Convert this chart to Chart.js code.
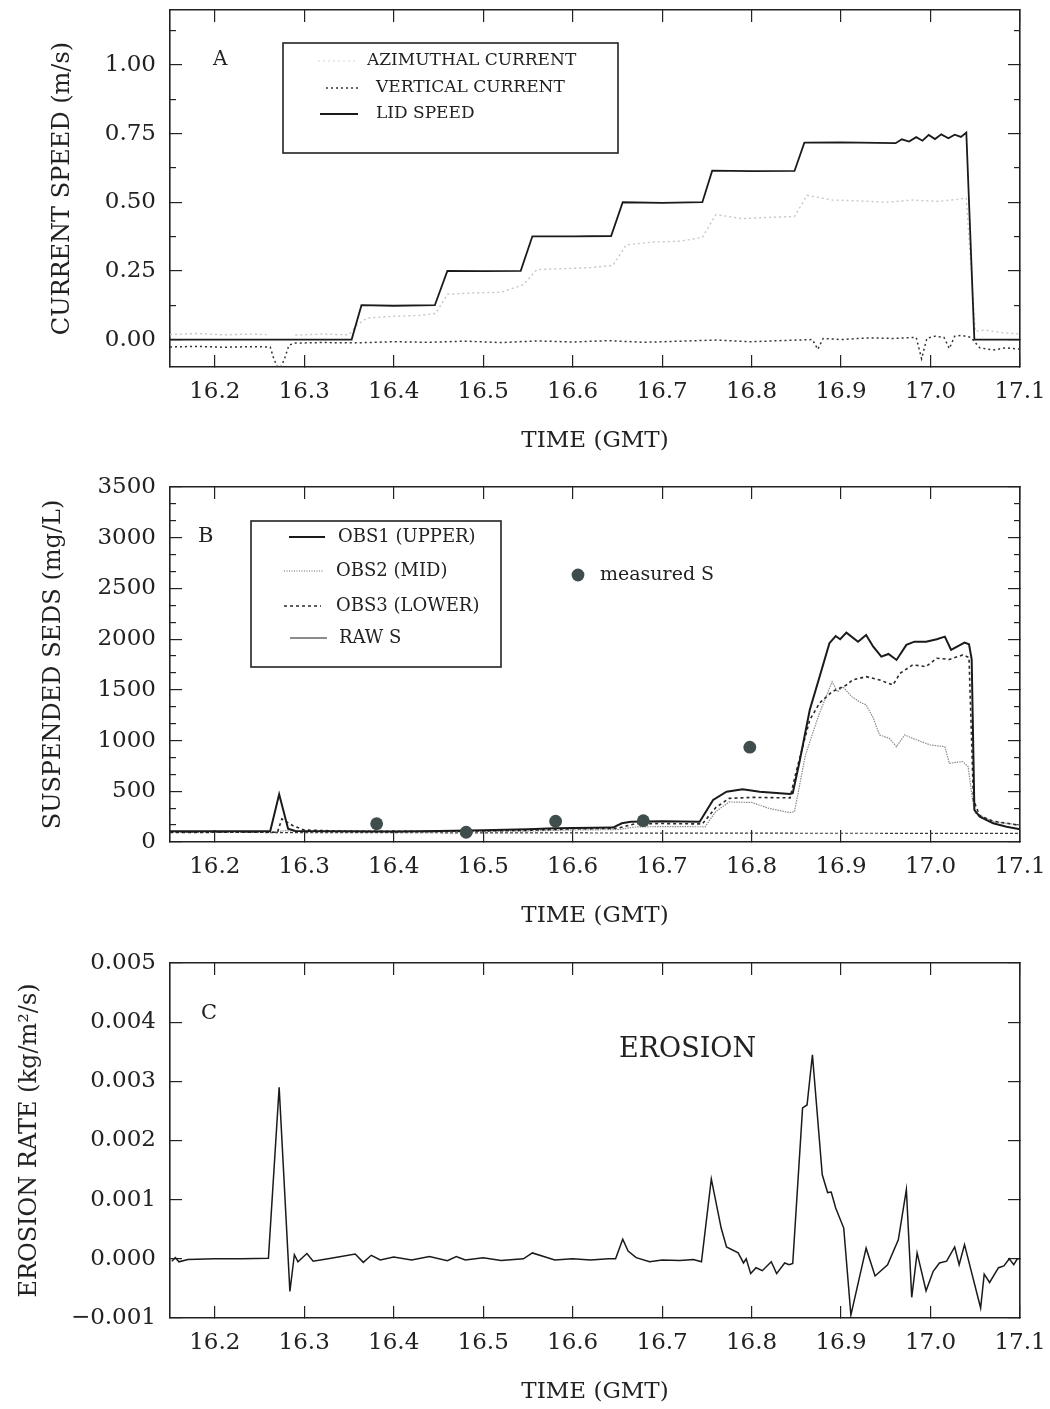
<!DOCTYPE html>
<html><head><meta charset="utf-8">
<script src="https://cdn.jsdelivr.net/npm/chart.js@4.4.1/dist/chart.umd.min.js"></script>
<style>
html,body{margin:0;padding:0;background:#fff;}
canvas{position:absolute;left:0;}
</style></head><body>
<canvas id="cA" width="1050" height="470" style="top:0px;width:1050px;height:470px"></canvas>
<canvas id="cB" width="1050" height="470" style="top:470px;width:1050px;height:470px"></canvas>
<canvas id="cC" width="1050" height="469" style="top:940px;width:1050px;height:469px"></canvas>
<script>
// ---------- shared x axis ----------
const X_MIN = 16.15, X_MAX = 17.1;
const xTickValues = [16.2, 16.3, 16.4, 16.5, 16.6, 16.7, 16.8, 16.9, 17.0, 17.1];
const xTickLabels = ['16.2','16.3','16.4','16.5','16.6','16.7','16.8','16.9','17.0','17.1'];
const X_TITLE = 'TIME (GMT)';

// ---------- panel A : currents ----------
const aYMajor = [0, 0.25, 0.5, 0.75, 1.0];
const aYLabels = ['0.00','0.25','0.50','0.75','1.00'];
const aYMinor = [0.125, 0.375, 0.625, 0.875, 1.125];
const lidT = [16.15,16.353,16.364,16.40,16.446,16.460,16.50,16.542,16.555,16.60,16.643,16.656,16.70,16.745,16.756,16.80,16.848,16.859,16.90,16.961,16.968,16.976,16.984,16.991,16.998,17.005,17.012,17.020,17.027,17.034,17.040,17.049,17.10];
const lidV = [0,0,0.125,0.123,0.125,0.250,0.249,0.250,0.376,0.376,0.377,0.500,0.498,0.500,0.615,0.613,0.614,0.717,0.718,0.715,0.729,0.721,0.737,0.724,0.745,0.730,0.747,0.733,0.746,0.738,0.754,0,0];
const azT = [16.15,16.18,16.21,16.24,16.258,16.262,16.29,16.32,16.35,16.358,16.37,16.40,16.43,16.447,16.46,16.49,16.52,16.545,16.56,16.59,16.62,16.645,16.66,16.69,16.72,16.745,16.76,16.79,16.82,16.848,16.862,16.89,16.92,16.95,16.98,17.01,17.04,17.05,17.06,17.08,17.10];
const azV = [0.018,0.022,0.017,0.020,0.018,null,0.016,0.020,0.017,0.05,0.078,0.085,0.088,0.095,0.165,0.170,0.172,0.20,0.255,0.258,0.262,0.270,0.345,0.355,0.358,0.372,0.455,0.440,0.445,0.448,0.525,0.508,0.505,0.500,0.508,0.503,0.515,0.030,0.035,0.025,0.020];
const vtT = [16.15,16.18,16.21,16.24,16.262,16.266,16.272,16.278,16.283,16.29,16.32,16.36,16.40,16.44,16.48,16.52,16.56,16.60,16.64,16.68,16.72,16.76,16.80,16.84,16.868,16.874,16.880,16.90,16.93,16.96,16.984,16.990,16.996,17.005,17.015,17.021,17.027,17.035,17.045,17.055,17.07,17.085,17.10];
const vtV = [-0.027,-0.025,-0.028,-0.026,-0.027,-0.07,-0.115,-0.07,-0.02,-0.013,-0.011,-0.012,-0.008,-0.010,-0.006,-0.011,-0.005,-0.009,-0.004,-0.010,-0.006,-0.002,-0.008,-0.003,0.000,-0.036,0.004,0.000,0.006,0.004,0.008,-0.070,0.005,0.012,0.008,-0.033,0.012,0.015,0.008,-0.030,-0.038,-0.030,-0.035];

// ---------- panel B : suspended sediment ----------
const bYMajor = [0,500,1000,1500,2000,2500,3000,3500];
const bYLabels = ['0','500','1000','1500','2000','2500','3000','3500'];
const bYMinor = [166.67,333.33,666.67,833.33,1166.67,1333.33,1666.67,1833.33,2166.67,2333.33,2666.67,2833.33,3166.67,3333.33];
const obs1T = [16.15,16.20,16.262,16.272,16.282,16.29,16.35,16.40,16.45,16.50,16.55,16.58,16.645,16.655,16.665,16.70,16.742,16.757,16.772,16.79,16.809,16.843,16.846,16.854,16.865,16.876,16.887,16.894,16.899,16.906,16.919,16.928,16.936,16.945,16.953,16.962,16.973,16.982,16.995,17.007,17.016,17.023,17.038,17.043,17.046,17.049,17.055,17.07,17.085,17.10];
const obs1V = [105,106,105,470,130,108,105,104,108,115,125,135,142,185,200,205,200,414,496,520,496,473,480,808,1302,1630,1960,2031,1999,2064,1975,2041,1926,1828,1854,1795,1943,1975,1975,1999,2025,1894,1966,1950,1800,316,250,184,150,125];
const obs2T = [16.15,16.26,16.28,16.30,16.35,16.45,16.55,16.60,16.65,16.67,16.70,16.748,16.76,16.775,16.80,16.82,16.843,16.848,16.86,16.875,16.89,16.896,16.902,16.912,16.923,16.928,16.936,16.943,16.954,16.962,16.971,16.98,16.99,17.0,17.016,17.021,17.036,17.042,17.047,17.05,17.07,17.10];
const obs2V = [95,95,112,100,100,100,108,118,122,148,152,150,300,395,390,330,290,300,850,1250,1581,1480,1530,1433,1370,1353,1223,1055,1022,940,1055,1022,989,956,940,776,793,743,414,286,200,168];
const obs3T = [16.15,16.27,16.275,16.288,16.30,16.35,16.45,16.55,16.60,16.65,16.67,16.70,16.745,16.76,16.775,16.80,16.843,16.85,16.865,16.876,16.89,16.906,16.913,16.928,16.943,16.958,16.966,16.98,16.995,17.007,17.021,17.036,17.043,17.048,17.055,17.07,17.10];
const obs3V = [95,96,227,158,118,105,104,115,130,135,180,182,178,340,430,440,435,700,1203,1370,1482,1548,1598,1630,1598,1548,1664,1746,1729,1812,1800,1844,1820,414,260,205,165];
const rawT = [16.15,16.35,16.55,16.75,16.95,17.10];
const rawV = [95,92,90,87,86,86];
const msT = [16.381,16.481,16.581,16.679,16.798];
const msV = [180,96,205,210,935];

// ---------- panel C : erosion ----------
const cYMajor = [-0.001,0,0.001,0.002,0.003,0.004,0.005];
const cYLabels = ['\u22120.001','0.000','0.001','0.002','0.003','0.004','0.005'];
const erT = [16.152,16.156,16.16,16.17,16.20,16.23,16.26,16.272,16.284,16.289,16.293,16.303,16.31,16.33,16.357,16.366,16.375,16.385,16.40,16.42,16.44,16.46,16.47,16.48,16.50,16.52,16.545,16.555,16.58,16.60,16.62,16.64,16.648,16.656,16.662,16.671,16.686,16.70,16.72,16.735,16.744,16.755,16.766,16.772,16.785,16.791,16.794,16.799,16.805,16.812,16.822,16.828,16.837,16.842,16.846,16.857,16.862,16.868,16.879,16.885,16.889,16.894,16.903,16.911,16.928,16.938,16.952,16.964,16.973,16.979,16.985,16.995,17.003,17.010,17.018,17.027,17.032,17.038,17.056,17.060,17.066,17.076,17.082,17.088,17.093,17.097,17.10];
const erV = [-0.00004,0.00002,-0.00005,-0.00001,0.00000,0.00000,0.00001,0.00290,-0.00055,0.00007,-0.00005,0.00009,-0.00004,0.00001,0.00008,-0.00006,0.00006,-0.00002,0.00003,-0.00002,0.00004,-0.00003,0.00004,-0.00002,0.00002,-0.00003,0.00000,0.00010,-0.00002,0.00000,-0.00002,0.00000,0.00000,0.00033,0.00013,0.00002,-0.00005,-0.00002,-0.00003,-0.00001,-0.00005,0.00135,0.00052,0.00020,0.00010,-0.00007,0.00000,-0.00025,-0.00015,-0.00020,-0.00005,-0.00025,-0.00007,-0.00010,-0.00008,0.00255,0.00260,0.00345,0.00142,0.00112,0.00113,0.00086,0.00052,-0.00095,0.00018,-0.00029,-0.00010,0.00032,0.00117,-0.00065,0.00010,-0.00054,-0.00021,-0.00007,-0.00004,0.00020,-0.00010,0.00024,-0.00083,-0.00026,-0.00040,-0.00015,-0.00012,0.00000,-0.00010,0.00000,0.00000];

// ---------- helpers ----------
const SERIF = "'DejaVu Serif', 'Liberation Serif', serif";
const INK = '#222';
const pts = (T, V) => T.map((t, i) => ({x: t, y: V[i]}));
const fixTicks = vals => s => { s.ticks = vals.map(v => ({value: v})); };
const zeroPad = s => { s.paddingLeft = 0; s.paddingRight = 0; s.paddingTop = 0; s.paddingBottom = 0; };
const tickGrid = len => ({display:true, drawOnChartArea:false, drawTicks:true, tickLength:-len, color:INK, lineWidth:1.2});
const border = () => ({display:true, color:INK, width:1.6});
const hidden = () => ({display:false, autoSkip:false});

function makeScales(o) {
  const sc = {
    x: {type:'linear', position:'bottom', min:X_MIN, max:X_MAX, weight:0,
      afterBuildTicks: fixTicks(xTickValues),
      afterFit: s => { s.height = o.xHeight; zeroPad(s); },
      grid: tickGrid(12), border: border(),
      ticks: {autoSkip:false, maxRotation:0, minRotation:0, padding:23, color:INK,
        font:{family:SERIF, size:23}, callback:(v, i) => xTickLabels[i]},
      title: {display:true, text:X_TITLE, color:INK, font:{family:SERIF, size:23},
        padding:{top:0, bottom:o.xTitlePad}}},
    xTop: {type:'linear', position:'top', min:X_MIN, max:X_MAX, weight:0,
      afterBuildTicks: fixTicks(xTickValues),
      afterFit: s => { s.height = 0; zeroPad(s); },
      grid: tickGrid(12), border: border(), ticks: hidden()},
    y: {type:'linear', position:'left', min:o.yMin, max:o.yMax, weight:1,
      afterBuildTicks: fixTicks(o.yMajor),
      afterFit: s => { s.width = 170; zeroPad(s); },
      grid: tickGrid(12), border: border(),
      ticks: {autoSkip:false, padding:26, color:INK, font:{family:SERIF, size:23},
        callback:(v, i) => o.yLabels[i]},
      title: {display:true, text:o.yTitle, color:INK, font:{family:SERIF, size:24},
        padding:{top:o.yTitlePad, bottom:0}}},
    yRight: {type:'linear', position:'right', min:o.yMin, max:o.yMax, weight:0,
      afterBuildTicks: fixTicks(o.yMajor),
      afterFit: s => { s.width = 0; zeroPad(s); },
      grid: tickGrid(12), border: border(), ticks: hidden()}
  };
  if (o.yMinor) {
    sc.yMinor = {type:'linear', position:'left', min:o.yMin, max:o.yMax, weight:0,
      afterBuildTicks: fixTicks(o.yMinor),
      afterFit: s => { s.width = 0; zeroPad(s); },
      grid: tickGrid(6), border:{display:false}, ticks: hidden()};
    sc.yRightMinor = {type:'linear', position:'right', min:o.yMin, max:o.yMax, weight:1,
      afterBuildTicks: fixTicks(o.yMinor),
      afterFit: s => { s.width = 0; zeroPad(s); },
      grid: tickGrid(6), border:{display:false}, ticks: hidden()};
  }
  return sc;
}

function line(label, T, V, color, width, dash) {
  return {label, data: pts(T, V), borderColor: color, backgroundColor: color, borderWidth: width,
    borderDash: dash || [], pointRadius: 0, tension: 0, fill: false, xAxisID:'x', yAxisID:'y', spanGaps:false};
}
function txt(ctx, s, x, y, size, align) {
  ctx.save(); ctx.fillStyle = INK; ctx.font = size + 'px ' + SERIF;
  ctx.textAlign = align || 'left'; ctx.textBaseline = 'middle'; ctx.fillText(s, x, y); ctx.restore();
}
function sample(ctx, x1, x2, y, color, width, dash) {
  ctx.save(); ctx.strokeStyle = color; ctx.lineWidth = width; ctx.setLineDash(dash || []);
  ctx.beginPath(); ctx.moveTo(x1, y); ctx.lineTo(x2, y); ctx.stroke(); ctx.restore();
}
function boxRect(ctx, x, y, w, h) {
  ctx.save(); ctx.strokeStyle = INK; ctx.lineWidth = 1.6; ctx.strokeRect(x, y, w, h); ctx.restore();
}
const baseOpts = (scales, pad) => ({
  responsive:false, animation:false, devicePixelRatio:1, events:[],
  layout:{padding:{top:pad, right:30, bottom:0, left:0}},
  plugins:{legend:{display:false}, tooltip:{enabled:false}},
  scales
});

// ---------- Chart A ----------
new Chart(document.getElementById('cA'), {
  type:'line',
  data:{datasets:[
    line('LID SPEED', lidT, lidV, '#1a1a1a', 1.8),
    line('VERTICAL CURRENT', vtT, vtV, '#333', 1.5, [2,3]),
    line('AZIMUTHAL CURRENT', azT, azV, '#c6c6c6', 1.4, [2,3])
  ]},
  options: baseOpts(makeScales({yMin:-0.1, yMax:1.2, yMajor:aYMajor, yLabels:aYLabels, yMinor:aYMinor,
    yTitle:'CURRENT SPEED (m/s)', yTitlePad:48, xHeight:103, xTitlePad:15}), 10),
  plugins:[{id:'annA', afterDraw(chart){
    const ctx = chart.ctx, ds = chart.data.datasets;
    boxRect(ctx, 283, 43, 335, 110);
    sample(ctx, 318, 356, 61, '#d4d4d4', 1.2, [2,3]);
    sample(ctx, 326, 360, 88, '#333', 1.5, [2,3]);
    sample(ctx, 320, 358, 114, '#1a1a1a', 1.8);
    txt(ctx, ds[2].label, 367, 61, 17);
    txt(ctx, ds[1].label, 376, 88, 17);
    txt(ctx, ds[0].label, 376, 114, 17);
    txt(ctx, 'A', 213, 60, 20);
  }}]
});

// ---------- Chart B ----------
new Chart(document.getElementById('cB'), {
  type:'line',
  data:{datasets:[
    {label:'measured S', type:'scatter', data: pts(msT, msV), showLine:false, pointRadius:6.4,
      pointBackgroundColor:'#3f4d4d', pointBorderColor:'#3f4d4d', pointBorderWidth:0, xAxisID:'x', yAxisID:'y'},
    line('OBS1 (UPPER)', obs1T, obs1V, '#1a1a1a', 2.0),
    line('OBS3 (LOWER)', obs3T, obs3V, '#2a2a2a', 1.6, [3,3]),
    line('OBS2 (MID)', obs2T, obs2V, '#8c8c8c', 1.2, [1.5,1]),
    line('RAW S', rawT, rawV, '#3a3a3a', 1.2, [3,2])
  ]},
  options: baseOpts(makeScales({yMin:0, yMax:3500, yMajor:bYMajor, yLabels:bYLabels, yMinor:bYMinor,
    yTitle:'SUSPENDED SEDS (mg/L)', yTitlePad:39, xHeight:98, xTitlePad:10}), 17),
  plugins:[{id:'annB', afterDraw(chart){
    const ctx = chart.ctx, ds = chart.data.datasets;
    boxRect(ctx, 251, 51, 250, 146);
    sample(ctx, 289, 325, 67, '#1a1a1a', 1.8);
    sample(ctx, 284, 324, 101, '#666', 1.1, [1,1.5]);
    sample(ctx, 284, 321, 136, '#2a2a2a', 1.5, [3,3]);
    sample(ctx, 290, 327, 168, '#1a1a1a', 1.1);
    txt(ctx, ds[1].label, 338, 67, 18);
    txt(ctx, ds[3].label, 336, 101, 18);
    txt(ctx, ds[2].label, 336, 136, 18);
    txt(ctx, ds[4].label, 339, 168, 18);
    ctx.save(); ctx.fillStyle = '#3f4d4d'; ctx.beginPath(); ctx.arc(578, 105, 6.4, 0, Math.PI*2); ctx.fill(); ctx.restore();
    txt(ctx, ds[0].label, 600, 105, 19);
    txt(ctx, 'B', 198, 67, 21);
  }}]
});

// ---------- Chart C ----------
new Chart(document.getElementById('cC'), {
  type:'line',
  data:{datasets:[ line('EROSION', erT, erV, '#1a1a1a', 1.5) ]},
  options: baseOpts(makeScales({yMin:-0.001, yMax:0.005, yMajor:cYMajor, yLabels:cYLabels, yMinor:null,
    yTitle:'EROSION RATE (kg/m\u00B2/s)', yTitlePad:15, xHeight:91, xTitlePad:3}), 23),
  plugins:[{id:'annC', afterDraw(chart){
    const ctx = chart.ctx, ds = chart.data.datasets;
    txt(ctx, 'C', 201, 74, 21);
    txt(ctx, ds[0].label, 619, 110, 27);
  }}]
});
</script>
</body></html>
